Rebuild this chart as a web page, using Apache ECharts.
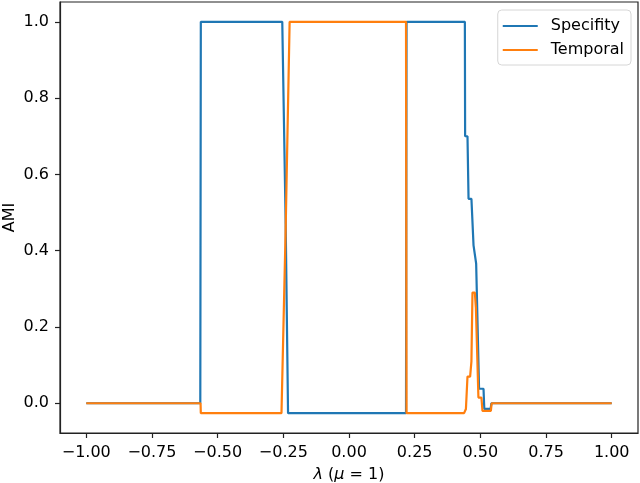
<!DOCTYPE html>
<html>
<head>
<meta charset="utf-8">
<script src="https://cdn.jsdelivr.net/npm/echarts@6/dist/echarts.min.js"></script>
<style>
  html, body { margin: 0; padding: 0; background: #fff; }
  #main { width: 640px; height: 483px; }
</style>
</head>
<body>
<div id="main"></div>
<script>
// lambda positions and AMI values
var specX = [-1.0, -0.566, -0.564, -0.254, -0.241, -0.232, 0.217, 0.219, 0.441, 0.442, 0.451, 0.455, 0.466, 0.474, 0.480, 0.484, 0.490, 0.495, 0.512, 0.515, 0.539, 0.542, 1.0];
var specY = [0, 0, 1.0, 1.0, 0.47, -0.026, -0.026, 1.0, 1.0, 0.70, 0.70, 0.536, 0.536, 0.414, 0.414, 0.366, 0.366, 0.038, 0.038, -0.015, -0.015, 0, 0];

var tempX = [-1.0, -0.565, -0.564, -0.257, -0.241, -0.226, 0.217, 0.219, 0.438, 0.445, 0.451, 0.461, 0.466, 0.470, 0.479, 0.483, 0.488, 0.4926, 0.504, 0.508, 0.540, 0.543, 1.0];
var tempY = [0, 0, -0.026, -0.026, 0.46, 1.0, 1.0, -0.026, -0.026, -0.015, 0.07, 0.07, 0.11, 0.29, 0.29, 0.25, 0.25, 0.015, 0.015, -0.02, -0.02, 0, 0];

var xTicks = [-1.0, -0.75, -0.5, -0.25, 0, 0.25, 0.5, 0.75, 1.0];
var yTicks = [0, 0.2, 0.4, 0.6, 0.8, 1.0];

function pairs(xs, ys) {
    var out = [];
    for (var i = 0; i < xs.length; i++) out.push([xs[i], ys[i]]);
    return out;
}
function fmt(v, d) {
    return (v < 0 ? '\u2212' : '') + Math.abs(v).toFixed(d);
}

var font = 'DejaVu Sans';
var fs = 16;
var myChart = echarts.init(document.getElementById('main'));
var option = {
    animation: false,
    grid: {
        left: 60, right: 2, top: 2, bottom: 50,
        outerBoundsMode: 'none',
        containLabel: false,
        show: true, borderColor: '#222', borderWidth: 1.2
    },
    legend: {
        orient: 'vertical',
        right: 9,
        top: 10,
        icon: 'rect',
        itemWidth: 35,
        itemHeight: 2,
        itemGap: 8,
        padding: [8, 7, 7, 5],
        borderColor: '#d6d6d6',
        borderWidth: 1,
        borderRadius: 4,
        backgroundColor: 'rgba(255,255,255,0.8)',
        textStyle: { fontFamily: font, fontSize: fs, color: '#000', padding: [0, 0, 0, 8] },
        data: ['Specifity', 'Temporal']
    },
    xAxis: {
        type: 'value',
        min: -1.1,
        max: 1.1,
        name: '{i|λ} ({i|μ} = 1)',
        nameLocation: 'middle',
        nameGap: 34,
        nameMoveOverlap: false,
        nameTextStyle: {
            fontFamily: font, fontSize: fs, color: '#000',
            rich: { i: { fontFamily: font, fontSize: fs, fontStyle: 'italic', color: '#000' } }
        },
        splitLine: { show: false },
        axisLine: { onZero: false, lineStyle: { color: '#222', width: 1.2 } },
        axisTick: { customValues: xTicks, length: 5, lineStyle: { color: '#222', width: 1.2 } },
        axisLabel: {
            customValues: xTicks,
            margin: 12,
            fontFamily: font, fontSize: fs, color: '#000',
            formatter: function (v) { return fmt(v, 2); }
        }
    },
    yAxis: {
        type: 'value',
        min: -0.078,
        max: 1.052,
        name: 'AMI',
        nameLocation: 'middle',
        nameGap: 42,
        nameMoveOverlap: false,
        nameTextStyle: { fontFamily: font, fontSize: fs, color: '#000' },
        splitLine: { show: false },
        axisLine: { show: true, onZero: false, lineStyle: { color: '#222', width: 1.2 } },
        axisTick: { show: true, customValues: yTicks, length: 5, lineStyle: { color: '#222', width: 1.2 } },
        axisLabel: {
            customValues: yTicks,
            margin: 11,
            fontFamily: font, fontSize: fs, color: '#000',
            formatter: function (v) { return fmt(v, 1); }
        }
    },
    series: [
        {
            name: 'Specifity',
            type: 'line',
            showSymbol: false,
            symbol: 'none',
            color: '#1f77b4',
            lineStyle: { width: 2.2, color: '#1f77b4' },
            data: pairs(specX, specY)
        },
        {
            name: 'Temporal',
            type: 'line',
            showSymbol: false,
            symbol: 'none',
            color: '#ff7f0e',
            lineStyle: { width: 2.2, color: '#ff7f0e' },
            data: pairs(tempX, tempY)
        }
    ]
};
myChart.setOption(option);
</script>
</body>
</html>
